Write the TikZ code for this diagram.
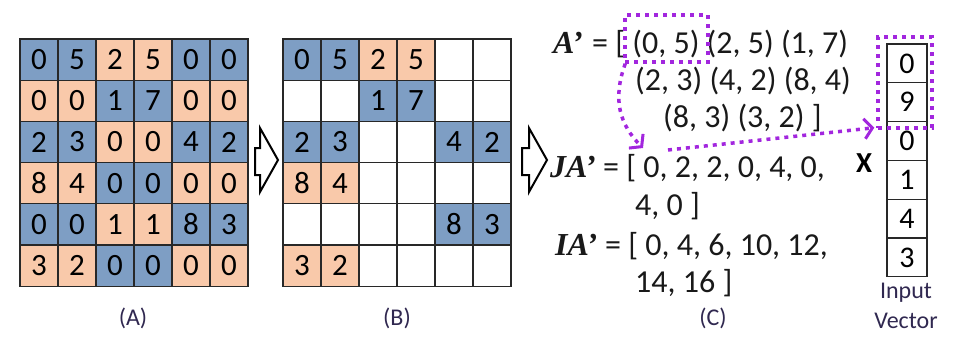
\documentclass[tikz,border=0pt]{standalone}
\usepackage{fontspec}
\setmainfont{Carlito}
\newfontfamily\primefont{Liberation Serif}
\usetikzlibrary{arrows.meta, positioning}

\definecolor{cellblue}{RGB}{126,158,196}
\definecolor{cellpeach}{RGB}{249,201,170}
\definecolor{dotpurple}{RGB}{162,38,222}
\definecolor{captext}{RGB}{48,40,80}
\definecolor{gridline}{RGB}{40,40,40}

\newcommand{\vname}[1]{{\primefont\bfseries\itshape #1}}

\begin{document}
\begin{tikzpicture}[
    x=1pt, y=-1pt,
    cell/.style={
        rectangle,
        draw=gridline,
        line width=1.1pt,
        minimum width=38pt,
        minimum height=41.2pt,
        inner sep=0pt,
        font=\fontsize{31}{31}\selectfont
    },
    vcell/.style={
        cell,
        minimum width=40pt,
        minimum height=38.8pt,
        font=\fontsize{30}{30}\selectfont
    },
    ctext/.style={
        anchor=base west,
        inner sep=0pt,
        text=black!90,
        font=\fontsize{32}{32}\selectfont
    },
    caption/.style={
        anchor=base,
        inner sep=0pt,
        text=captext,
        font=\fontsize{24}{24}\selectfont
    },
    dotbox/.style={
        rectangle,
        draw=dotpurple,
        line width=3.5pt,
        dash pattern=on 4pt off 5pt,
        inner sep=0pt
    },
    dotarrow/.style={
        draw=dotpurple,
        line width=3.5pt,
        dash pattern=on 4pt off 5pt,
        -{Straight Barb[length=8pt, width=20pt, line width=3pt]}
    },
    blockarrow/.style={draw=black, line width=2pt, fill=white, line join=miter}
]
\useasboundingbox (0,0) rectangle (954,338);

% (A) full matrix
\foreach \row [count=\r] in {{0,5,2,5,0,0},{0,0,1,7,0,0},{2,3,0,0,4,2},
                             {8,4,0,0,0,0},{0,0,1,1,8,3},{3,2,0,0,0,0}} {
    \foreach \v [count=\c] in \row {
        \pgfmathtruncatemacro\tone{mod(\r+floor((\c-1)/2),2)}
        \ifnum\tone=1 \def\cfill{cellblue}\else\def\cfill{cellpeach}\fi
        \node[cell, fill=\cfill] (a-\r-\c) at ({20+38*\c-19}, {39+41.2*\r-20.6}) {\v};
    }
}
\node[caption] (lbl-a) at (133,325) {(A)};

% (B) blocks kept
\foreach \r in {1,...,6} {
    \foreach \c in {1,...,6} {
        \node[cell, fill=white] (b-\r-\c) at ({283+38*\c-19}, {39+41.2*\r-20.6}) {};
    }
}
\foreach \r/\k/\p/\q/\cfill in {1/1/0/5/cellblue, 1/2/2/5/cellpeach, 2/2/1/7/cellblue,
                                3/1/2/3/cellblue, 3/3/4/2/cellblue, 4/1/8/4/cellpeach,
                                5/3/8/3/cellblue, 6/1/3/2/cellpeach} {
    \pgfmathtruncatemacro\cl{2*\k-1}
    \pgfmathtruncatemacro\cr{2*\k}
    \node[cell, fill=\cfill] (bv-\r-\cl) at ({283+38*\cl-19}, {39+41.2*\r-20.6}) {\p};
    \node[cell, fill=\cfill] (bv-\r-\cr) at ({283+38*\cr-19}, {39+41.2*\r-20.6}) {\q};
}
\node[caption] (lbl-b) at (397,325) {(B)};

% hollow arrows
\draw[blockarrow] (255,148) -- (260,148) -- (260,128) -- (278,160) -- (260,192) -- (260,175) -- (255,175) -- cycle;
\draw[blockarrow] (522,148) -- (529,148) -- (529,128) -- (547,160) -- (529,192) -- (529,175) -- (522,175) -- cycle;

% (C) compressed arrays
\node[ctext] (ap-lbl) at (553,53) {\vname{A’}};
\node[ctext] (ap-1) at (592,53) {= [ (0, 5) (2, 5) (1, 7)};
\node[ctext] (ap-2) at (635,90) {(2, 3) (4, 2) (8, 4)};
\node[ctext] (ap-3) at (663,127) {(8, 3) (3, 2) ]};
\node[ctext] (ja-lbl) at (550,177) {\vname{JA’}};
\node[ctext] (ja-1) at (603,177) {= [ 0, 2, 2, 0, 4, 0,};
\node[ctext] (ja-2) at (635,215) {4, 0 ]};
\node[ctext] (ia-lbl) at (555,255) {\vname{IA’}};
\node[ctext] (ia-1) at (605,255) {= [ 0, 4, 6, 10, 12,};
\node[ctext] (ia-2) at (635,292) {14, 16 ]};
\node[caption] (lbl-c) at (713,325) {(C)};

% input vector
\foreach \v [count=\i] in {0,9,0,1,4,3} {
    \node[vcell] (x-\i) at (907, {44+38.8*\i-19.4}) {\v};
}
\node[anchor=base, inner sep=0pt, font=\bfseries\fontsize{29}{29}\selectfont] (times) at (864,172) {X};
\node[caption] (in-lbl) at (906,298) {Input};
\node[caption] (vec-lbl) at (906,328) {Vector};

% selections and dotted links
\node[dotbox, minimum width=83pt, minimum height=47pt] (sel-a) at (666.5,38.5) {};
\node[dotbox, minimum width=54pt, minimum height=91pt] (sel-x) at (905,82.5) {};
\coordinate (ja-tip) at (643,148);
\coordinate (ja-tail) at (668,150);
\draw[dotarrow] ([xshift=2pt]sel-a.south west) .. controls (612,100) and (620,125) .. (ja-tip);
\draw[dotarrow] (ja-tail) -- ([xshift=-2pt, yshift=2pt]sel-x.south west);

\end{tikzpicture}
\end{document}
